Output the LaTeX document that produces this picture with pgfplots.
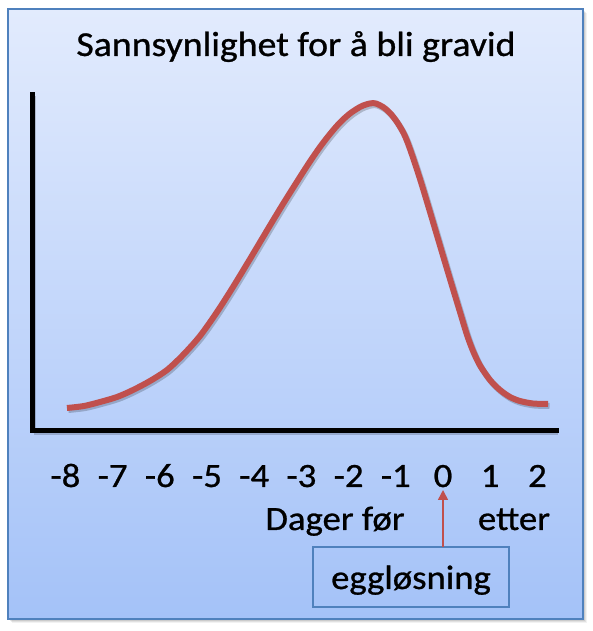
\documentclass[border=0pt]{standalone}
\usepackage{pgfplots}
\pgfplotsset{compat=1.18}
\usepackage{pgfplotstable}
\usepackage{fontspec}
\setmainfont{Carlito}[FakeStretch=1.08, FakeBold=0.8]
\usetikzlibrary{arrows.meta}

\definecolor{frameblue}{HTML}{4F81BD}
\definecolor{curvered}{HTML}{C0504D}
\definecolor{bgtop}{HTML}{E2EBFD}
\definecolor{bgbottom}{HTML}{A4C2F8}

% days relative to ovulation, relative probability (arbitrary units)
\pgfplotstableread{
d       y
-7.967  22.5
-7.606  24.5
-7.267  28.5
-6.907  33.5
-6.568  40.5
-6.208  49.5
-5.848  60.5
-5.509  75.5
-5.149  94.5
-4.788  118.5
-4.449  143.5
-4.089  171.5
-3.729  200.0
-3.390  226.5
-3.030  253.5
-2.818  269.0
-2.606  283.5
-2.394  296.5
-2.182  308.0
-1.970  317.0
-1.759  323.5
-1.631  326.0
-1.526  327.2
-1.420  327.0
-1.271  323.5
-1.123  317.5
-0.975  308.5
-0.826  296.5
-0.699  281.5
-0.487  251.5
-0.275  218.5
-0.064  185.0
 0.148  151.5
 0.360  118.5
 0.509  95.5
 0.636  79.5
 0.784  65.0
 0.996  50.5
 1.208  40.5
 1.420  33.5
 1.631  29.5
 1.907  27.0
 2.225  26.5
}\curvedata

\begin{document}
\begin{tikzpicture}
\fontsize{34}{40}\selectfont
\path[use as bounding box, fill=white] (0pt,0pt) rectangle (592pt,631pt);
% soft frame shadow
\fill[black,opacity=0.05] (12pt,8pt) rectangle (587pt,618pt);
\fill[black,opacity=0.07] (11pt,9pt) rectangle (586pt,619pt);
\fill[black,opacity=0.09] (10pt,10pt) rectangle (585pt,620pt);
% panel
\shade[top color=bgtop,bottom color=bgbottom] (8pt,12pt) rectangle (583pt,622pt);
\draw[frameblue, line width=2pt] (8pt,12pt) rectangle (583pt,622pt);

\node[anchor=base, inner sep=0pt, font=\fontsize{35}{40}\selectfont] at (296pt,575pt) {Sannsynlighet for å bli gravid};

\begin{axis}[
  at={(32pt,200.5pt)}, anchor=south west,
  scale only axis, width=524.5pt, height=336pt,
  xmin=-8.708, xmax=2.405, ymin=0, ymax=336,
  axis x line=bottom, axis y line=left,
  axis line style={-, line width=5pt, black, line cap=rect,
    preaction={draw, black, opacity=0.18, line width=5pt,
               transform canvas={shift={(1.5pt,-2pt)}}}},
  xtick={-8,-7,-6,-5,-4,-3,-2,-1,0,1,2},
  xticklabels={-8,-7,-6,-5,-4,-3,-2,-1,0,1,2},
  ytick=\empty,
  major tick length=0pt,
  xticklabel style={anchor=base, inner sep=0pt, yshift=-56.5pt,
                    font=\fontsize{34}{40}\selectfont},
  clip=false,
]
\addplot[black, opacity=0.2, line width=6pt, smooth, shift={(1.5pt,-2pt)}] table[x=d,y=y] {\curvedata};
\addplot[curvered, line width=6pt, smooth] table[x=d,y=y] {\curvedata};
\end{axis}

\node[anchor=base, inner sep=0pt] at (335pt,101pt) {Dager før};
\node[anchor=base, inner sep=0pt] at (514pt,101pt) {etter};
\draw[frameblue, line width=1.5pt] (313pt,24pt) rectangle (509pt,84pt);
\node[anchor=base, inner sep=0pt] at (411pt,42pt) {eggløsning};
\draw[curvered, line width=1.5pt, -{Triangle[length=10pt,width=10pt]}] (443pt,84pt) -- (443pt,141pt);
\end{tikzpicture}
\end{document}
